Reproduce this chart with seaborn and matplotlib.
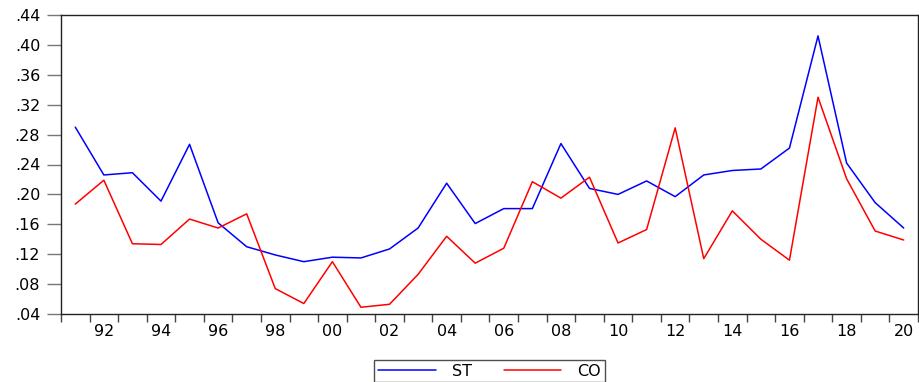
import numpy as np
import pandas as pd
import seaborn as sns
import matplotlib.pyplot as plt
from matplotlib.ticker import FuncFormatter

years = list(range(1991, 2021))
st = [0.290, 0.226, 0.229, 0.191, 0.267, 0.162, 0.130, 0.119, 0.110, 0.116,
      0.115, 0.127, 0.155, 0.215, 0.161, 0.181, 0.181, 0.268, 0.208, 0.200,
      0.218, 0.197, 0.226, 0.232, 0.234, 0.262, 0.412, 0.242, 0.189, 0.155]
co = [0.187, 0.219, 0.134, 0.133, 0.167, 0.155, 0.174, 0.074, 0.054, 0.110,
      0.049, 0.053, 0.093, 0.144, 0.108, 0.128, 0.217, 0.195, 0.223, 0.135,
      0.153, 0.289, 0.114, 0.178, 0.140, 0.112, 0.330, 0.221, 0.151, 0.139]
yticks = [0.04, 0.08, 0.12, 0.16, 0.20, 0.24, 0.28, 0.32, 0.36, 0.40, 0.44]

df = pd.DataFrame({'pos': np.arange(len(years)), 'ST': st, 'CO': co})
long = df.melt(id_vars='pos', var_name='series', value_name='value')

sns.set_style('white')
plt.rcParams['font.family'] = ['DejaVu Sans']
plt.rcParams['text.color'] = 'black'

fig = plt.figure(figsize=(9.2, 3.82), dpi=100)
ax = fig.add_axes([61/920, 1 - 314/382, 857/920, 299/382])

sns.lineplot(data=long, x='pos', y='value', hue='series',
             palette={'ST': '#0000ff', 'CO': '#ff0000'}, linewidth=1.1,
             ax=ax, legend=False)

ax.set_xlim(-0.5, len(years) - 0.5)
ax.set_ylim(0.04, 0.44)
ax.set_yticks(yticks)
ax.yaxis.set_major_formatter(FuncFormatter(lambda v, p: f'{v:.2f}'.lstrip('0')))

# year boundaries as ticks, even years labelled in the middle of their slot
ax.set_xticks(np.arange(-0.5, len(years)), minor=True)
even = [i for i, y in enumerate(years) if y % 2 == 0]
ax.set_xticks(even)
ax.set_xticklabels([f'{years[i] % 100:02d}' for i in even])
ax.tick_params(axis='x', which='major', bottom=True, length=0, labelsize=11.5,
               labelcolor='black', pad=7)
ax.tick_params(axis='x', which='minor', bottom=True, length=6, width=1,
               color='#444444', direction='out')
ax.tick_params(axis='y', left=True, length=10, width=1, color='#777777',
               direction='out', labelsize=11.5, labelcolor='black', pad=5)
ax.set_xlabel('')
ax.set_ylabel('')
for s in ax.spines.values():
    s.set_color('#222222')
    s.set_linewidth(1)

h1, = ax.plot([], [], color='#0000ff', linewidth=1.1)
h2, = ax.plot([], [], color='#ff0000', linewidth=1.1)
leg = fig.legend([h1, h2], ['ST', 'CO'], loc='center', ncol=2,
                 bbox_to_anchor=(489.5/920, 11/382), fontsize=11.5,
                 frameon=True, fancybox=False, edgecolor='#222222',
                 handlelength=3.6, columnspacing=2.0, borderpad=0.25,
                 handletextpad=1.0)
leg.get_frame().set_linewidth(1)

fig.savefig('out.png', dpi=100)
